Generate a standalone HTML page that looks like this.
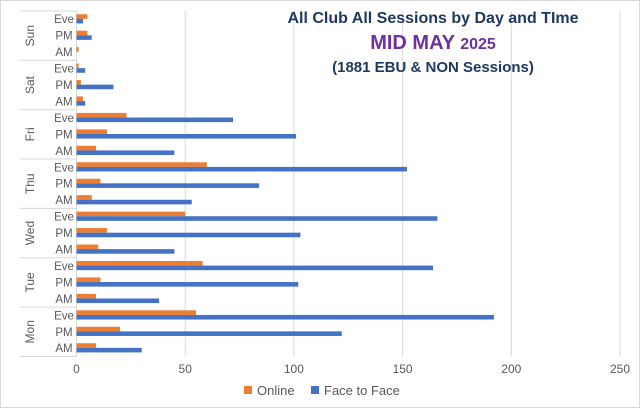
<!DOCTYPE html>
<html><head><meta charset="utf-8"><style>
body{margin:0;background:#fff}
svg{display:block;font-family:"Liberation Sans",sans-serif}
</style></head><body>
<svg id="c" width="640" height="408">
<rect x="0.5" y="0.5" width="639" height="407" fill="#fff" stroke="#d9d9d9"/>
<g id="grid"></g><g id="bars"></g><g id="ylab"></g><g id="xlab"></g>
<text x="433" y="23" text-anchor="middle" font-size="16" font-weight="bold" fill="#1f3864">All Club All Sessions by Day and TIme</text>
<text x="433" y="49" text-anchor="middle" font-weight="bold" fill="#7030a0"><tspan font-size="20">MID MAY </tspan><tspan font-size="16">2025</tspan></text>
<text x="433" y="72" text-anchor="middle" font-size="15" font-weight="bold" fill="#1f3864">(1881 EBU &amp; NON Sessions)</text>
<g>
<rect x="244" y="386" width="8" height="8" fill="#ed7d31"/>
<text x="257" y="395" font-size="13" fill="#595959">Online</text>
<rect x="311" y="386" width="8" height="8" fill="#4472c4"/>
<text x="324" y="395" font-size="13" fill="#595959">Face to Face</text>
</g>
</svg>
<script>
const days=["Sun","Sat","Fri","Thu","Wed","Tue","Mon"];
const sessions=["Eve","PM","AM"];
const online=[5,5,1, 1,2,3, 23,14,9, 60,11,7, 50,14,10, 58,11,9, 55,20,9];
const f2f=[3,7,0, 4,17,4, 72,101,45, 152,84,53, 166,103,45, 164,102,38, 192,122,30];
const ticks=[0,50,100,150,200,250];
const NS="http://www.w3.org/2000/svg";
const x0=76.5,pxu=2.174,plotTop=11,rowH=16.45;
const X=v=>x0+v*pxu;
const Y=i=>plotTop+i*rowH;
function mk(t,a,p){const e=document.createElementNS(NS,t);for(const k in a)e.setAttribute(k,a[k]);p.appendChild(e);return e;}
const grid=document.getElementById('grid'),bars=document.getElementById('bars'),yl=document.getElementById('ylab'),xl=document.getElementById('xlab');
ticks.forEach(t=>{
 const l=mk('line',{x1:X(t),x2:X(t),y1:plotTop,y2:Y(21),stroke:'#d9d9d9'},grid);
 
 
 const tx=mk('text',{x:X(t),y:373,'text-anchor':'middle','font-size':'12',fill:'#595959'},xl);
 tx.textContent=t;
 
 
});
const n=online.length;
for(let i=0;i<n;i++){
 const yc=Y(i)+rowH/2;
 const o=mk('rect',{x:X(0),y:yc-5,width:Math.max(0,X(online[i])-X(0)),height:4.6,fill:'#ed7d31'},bars);
 
 
 const b=mk('rect',{x:X(0),y:yc-0.4,width:Math.max(0,X(f2f[i])-X(0)),height:4.6,fill:'#4472c4'},bars);
 
 
 const s=mk('text',{x:64,y:yc+4,'text-anchor':'middle','font-size':'11.5',fill:'#595959'},yl);
 s.textContent=sessions[i%3];
 
 
}
days.forEach((d,j)=>{
 const yc=Y(j*3)+rowH*1.5;
 const t=mk('text',{x:0,y:0,transform:`translate(34,${yc}) rotate(-90)`,'text-anchor':'middle','font-size':'12',fill:'#595959'},yl);
 t.textContent=d;
 
 
});
for(let j=0;j<=days.length;j++){
 const l=mk('line',{x1:20,x2:x0,y1:Y(j*3),y2:Y(j*3),stroke:'#d9d9d9'},grid);
 
 
}
mk('line',{x1:x0,x2:x0,y1:plotTop,y2:Y(21),stroke:'#d9d9d9'},grid);
</script>
</body></html>
